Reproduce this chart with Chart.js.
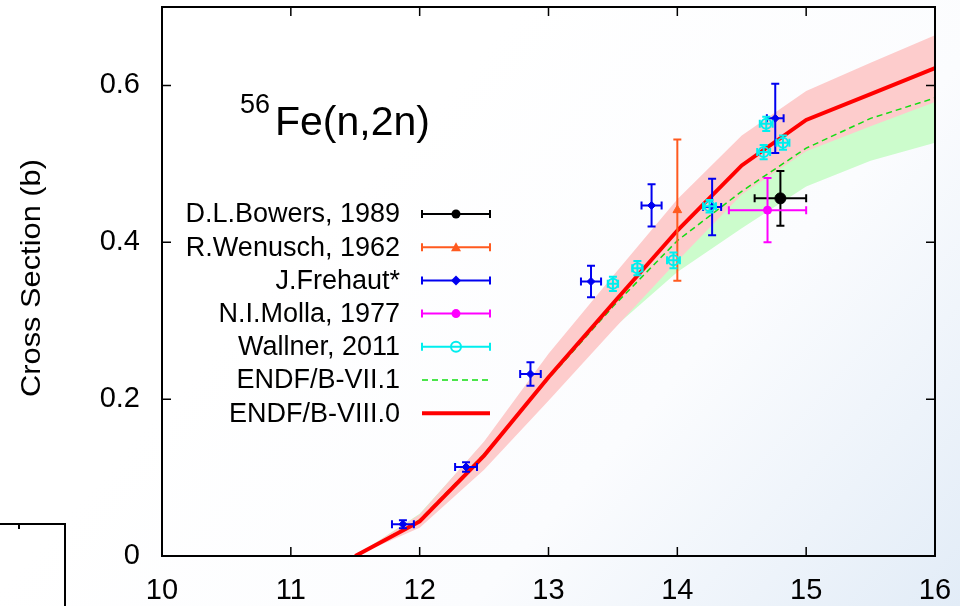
<!DOCTYPE html>
<html>
<head>
<meta charset="utf-8">
<script src="https://cdn.jsdelivr.net/npm/chart.js@4.4.1/dist/chart.umd.min.js"></script>
<style>
  html, body { margin: 0; padding: 0; background: #fff; }
  canvas { display: block; }
</style>
</head>
<body>
<canvas id="xs" width="960" height="606"></canvas>
<script>
// evaluated curves, neutron energy in MeV, cross section in barns
const energies = [11.5, 12, 12.5, 13, 13.5, 14, 14.5, 15, 15.5, 16];
const endf80   = [0, 0.044, 0.128, 0.228, 0.322, 0.415, 0.498, 0.556, 0.589, 0.622];
const endf80Lo = [0, 0.036, 0.110, 0.198, 0.288, 0.376, 0.461, 0.516, 0.548, 0.579];
const endf80Hi = [0, 0.053, 0.146, 0.258, 0.357, 0.455, 0.536, 0.593, 0.629, 0.664];
const endf71   = [0, 0.046, 0.130, 0.226, 0.318, 0.402, 0.465, 0.520, 0.558, 0.584];
const endf71Lo = [0, 0.038, 0.115, 0.200, 0.290, 0.362, 0.418, 0.471, 0.504, 0.527];
const endf71Hi = [0, 0.054, 0.145, 0.252, 0.346, 0.442, 0.512, 0.569, 0.612, 0.641];

// measurements: energy, energy error, cross section, cross section error
const bowersE = [14.80], bowersDE = [0.20], bowersXS = [0.456], bowersDXS = [0.035];
const wenuschE = [14.00], wenuschDE = [0], wenuschXS = [0.441], wenuschDXS = [0.090];
const frehautE   = [11.87, 12.36, 12.86, 13.33, 13.80, 14.27, 14.76];
const frehautDE  = [0.085, 0.085, 0.080, 0.078, 0.078, 0.070, 0.065];
const frehautXS  = [0.0405, 0.1135, 0.232, 0.350, 0.447, 0.445, 0.558];
const frehautDXS = [0.005, 0.006, 0.015, 0.020, 0.027, 0.036, 0.044];
const mollaE = [14.70], mollaDE = [0.30], mollaXS = [0.441], mollaDXS = [0.041];
const wallnerE   = [13.50, 13.69, 13.97, 14.25, 14.67, 14.69, 14.82];
const wallnerDE  = [0.04, 0.04, 0.05, 0.05, 0.05, 0.05, 0.05];
const wallnerXS  = [0.347, 0.367, 0.377, 0.446, 0.515, 0.551, 0.527];
const wallnerDXS = [0.009, 0.009, 0.010, 0.008, 0.009, 0.009, 0.009];

const xTicks = [10, 11, 12, 13, 14, 15, 16];
const yTicks = [0, 0.2, 0.4, 0.6];

const pts = (xs, ys) => xs.map((x, i) => ({ x: x, y: ys[i] }));

const ORANGE = '#ff5a1f', BLUE = '#0000f0', MAGENTA = '#ff00ff', CYAN = '#00eeee';

function curve(ys, extra) {
  return Object.assign({
    data: pts(energies, ys), showLine: true, pointRadius: 0,
    borderWidth: 0, borderColor: 'rgba(0,0,0,0)', tension: 0, fill: false
  }, extra);
}

function measured(label, xs, dxs, ys, dys, color, style, extra) {
  return Object.assign({
    label: label, data: pts(xs, ys), errX: dxs, errY: dys,
    showLine: false, pointStyle: style, pointRadius: 4,
    backgroundColor: color, borderColor: color, borderWidth: 1, order: 1
  }, extra);
}

const datasets = [
  curve(endf71Lo, { order: 10 }),                                              // 0
  curve(endf71Hi, { order: 10, fill: { target: 0 }, backgroundColor: '#ccfccc' }), // 1
  curve(endf80Lo, { order: 9 }),                                               // 2
  curve(endf80Hi, { order: 9, fill: { target: 2 }, backgroundColor: '#fdcccc' }),  // 3
  curve(endf71, { label: 'ENDF/B-VII.1', order: 8, borderWidth: 1.5, borderColor: '#11dd11', borderDash: [6, 4] }),
  curve(endf80, { label: 'ENDF/B-VIII.0', order: 7, borderWidth: 4, borderColor: '#ff0000' }),
  measured('Wallner, 2011', wallnerE, wallnerDE, wallnerXS, wallnerDXS, CYAN, 'circle',
           { backgroundColor: 'rgba(0,0,0,0)', borderWidth: 2, pointRadius: 5 }),
  measured('N.I.Molla, 1977', mollaE, mollaDE, mollaXS, mollaDXS, MAGENTA, 'circle'),
  measured('J.Frehaut*', frehautE, frehautDE, frehautXS, frehautDXS, BLUE, 'rectRot'),
  measured('R.Wenusch, 1962', wenuschE, wenuschDE, wenuschXS, wenuschDXS, ORANGE, 'triangle', { pointRadius: 5 }),
  measured('D.L.Bowers, 1989', bowersE, bowersDE, bowersXS, bowersDXS, '#000', 'circle', { pointRadius: 5.5 })
];

const legendRows = [
  { text: 'D.L.Bowers, 1989', color: '#000', kind: 'err', marker: 'dot' },
  { text: 'R.Wenusch, 1962', color: ORANGE, kind: 'err', marker: 'tri' },
  { text: 'J.Frehaut*', color: BLUE, kind: 'err', marker: 'dia' },
  { text: 'N.I.Molla, 1977', color: MAGENTA, kind: 'err', marker: 'dot' },
  { text: 'Wallner, 2011', color: CYAN, kind: 'err', marker: 'ring' },
  { text: 'ENDF/B-VII.1', color: '#11dd11', kind: 'dash' },
  { text: 'ENDF/B-VIII.0', color: '#ff0000', kind: 'thick' }
];

function capLine(ctx, x1, y1, x2, y2, horiz, cap) {
  ctx.beginPath();
  ctx.moveTo(x1, y1); ctx.lineTo(x2, y2);
  if (horiz) {
    ctx.moveTo(x1, y1 - cap); ctx.lineTo(x1, y1 + cap);
    ctx.moveTo(x2, y2 - cap); ctx.lineTo(x2, y2 + cap);
  } else {
    ctx.moveTo(x1 - cap, y1); ctx.lineTo(x1 + cap, y1);
    ctx.moveTo(x2 - cap, y2); ctx.lineTo(x2 + cap, y2);
  }
  ctx.stroke();
}

function marker(ctx, kind, x, y, color) {
  ctx.fillStyle = color; ctx.strokeStyle = color;
  ctx.beginPath();
  if (kind === 'dot') { ctx.arc(x, y, 4.5, 0, Math.PI * 2); ctx.fill(); }
  else if (kind === 'tri') { ctx.moveTo(x, y - 5); ctx.lineTo(x + 5, y + 4); ctx.lineTo(x - 5, y + 4); ctx.closePath(); ctx.fill(); }
  else if (kind === 'dia') { ctx.moveTo(x, y - 5); ctx.lineTo(x + 5, y); ctx.lineTo(x, y + 5); ctx.lineTo(x - 5, y); ctx.closePath(); ctx.fill(); }
  else if (kind === 'ring') { ctx.lineWidth = 2; ctx.arc(x, y, 5, 0, Math.PI * 2); ctx.stroke(); }
}

const decor = {
  id: 'decor',
  beforeDraw(chart) {
    const ctx = chart.ctx;
    const g = ctx.createLinearGradient(420, 120, 960, 606);
    g.addColorStop(0, '#ffffff');
    g.addColorStop(0.5, '#fbfcfe');
    g.addColorStop(1, '#e2ecf7');
    ctx.save();
    ctx.fillStyle = g;
    ctx.fillRect(0, 0, chart.width, chart.height);
    ctx.restore();
  },
  beforeDatasetDraw(chart, args) {
    const ds = chart.data.datasets[args.index];
    if (!ds.errY) return;
    const ctx = chart.ctx, xs = chart.scales.x, ys = chart.scales.y;
    ctx.save();
    ctx.strokeStyle = ds.borderColor;
    ctx.lineWidth = 2;
    ds.data.forEach((p, i) => {
      const px = xs.getPixelForValue(p.x), py = ys.getPixelForValue(p.y);
      const dx = ds.errX[i], dy = ds.errY[i];
      capLine(ctx, px, ys.getPixelForValue(p.y - dy), px, ys.getPixelForValue(p.y + dy), false, 4);
      if (dx > 0) capLine(ctx, xs.getPixelForValue(p.x - dx), py, xs.getPixelForValue(p.x + dx), py, true, 4);
    });
    ctx.restore();
  },
  afterDraw(chart) {
    const ctx = chart.ctx, a = chart.chartArea, xs = chart.scales.x, ys = chart.scales.y;
    ctx.save();
    ctx.strokeStyle = '#000';
    // inward tick marks on all four sides
    ctx.lineWidth = 1.5;
    ctx.beginPath();
    xs.ticks.forEach(t => {
      const px = xs.getPixelForValue(t.value);
      const len = Number.isInteger(t.value) ? 9 : 5;
      ctx.moveTo(px, a.bottom); ctx.lineTo(px, a.bottom - len);
      ctx.moveTo(px, a.top); ctx.lineTo(px, a.top + len);
    });
    ys.ticks.forEach(t => {
      const py = ys.getPixelForValue(t.value);
      const len = Math.round(t.value * 10) % 2 === 0 ? 9 : 5;
      ctx.moveTo(a.left, py); ctx.lineTo(a.left + len, py);
      ctx.moveTo(a.right, py); ctx.lineTo(a.right - len, py);
    });
    ctx.stroke();
    ctx.lineWidth = 2;
    ctx.strokeRect(a.left, a.top, a.right - a.left, a.bottom - a.top);

    // corner of the neighbouring panel
    ctx.beginPath();
    ctx.moveTo(0, 524); ctx.lineTo(65, 524); ctx.lineTo(65, 606);
    ctx.moveTo(19, 524); ctx.lineTo(19, 529);
    ctx.stroke();

    // reaction label
    ctx.fillStyle = '#000';
    ctx.textBaseline = 'alphabetic';
    ctx.textAlign = 'left';
    ctx.font = '27px "Liberation Sans", Arial, sans-serif';
    ctx.fillText('56', 240, 113);
    ctx.font = '41px "Liberation Sans", Arial, sans-serif';
    ctx.fillText('Fe(n,2n)', 275, 135);

    // y axis title
    ctx.save();
    ctx.translate(40, 278);
    ctx.rotate(-Math.PI / 2);
    ctx.scale(1.1, 1);
    ctx.textAlign = 'center';
    ctx.font = '28px "Liberation Sans", Arial, sans-serif';
    ctx.fillText('Cross Section (b)', 0, 0);
    ctx.restore();

    // legend
    ctx.font = '27px "Liberation Sans", Arial, sans-serif';
    ctx.textAlign = 'right';
    ctx.textBaseline = 'middle';
    legendRows.forEach((r, i) => {
      const y = 214 + i * 33.2;
      ctx.fillStyle = '#000';
      ctx.fillText(r.text, 400, y + 1);
      ctx.strokeStyle = r.color;
      if (r.kind === 'err') {
        ctx.lineWidth = 2;
        capLine(ctx, 422, y, 490, y, true, 4);
        marker(ctx, r.marker, 456, y, r.color);
      } else if (r.kind === 'dash') {
        ctx.lineWidth = 1.5;
        ctx.setLineDash([6, 4]);
        ctx.beginPath(); ctx.moveTo(422, y); ctx.lineTo(490, y); ctx.stroke();
        ctx.setLineDash([]);
      } else {
        ctx.lineWidth = 4;
        ctx.beginPath(); ctx.moveTo(422, y); ctx.lineTo(490, y); ctx.stroke();
      }
    });
    ctx.restore();
  }
};

new Chart(document.getElementById('xs'), {
  type: 'scatter',
  data: { datasets: datasets },
  options: {
    responsive: false,
    animation: false,
    layout: { padding: { top: 6, right: 25, left: 0, bottom: 0 } },
    plugins: { legend: { display: false }, tooltip: { enabled: false } },
    scales: {
      x: {
        type: 'linear', min: 10, max: 16,
        grid: { display: false, drawTicks: false },
        border: { display: false },
        afterFit(scale) {
          scale.height = 50;
          scale.paddingLeft = 0; scale.paddingRight = 0;
        },
        ticks: {
          stepSize: 0.5, padding: 18, color: '#000', maxRotation: 0, autoSkip: false,
          font: { family: '"Liberation Sans", Arial, sans-serif', size: 29 },
          callback: v => (xTicks.includes(v) ? String(v) : null)
        }
      },
      y: {
        type: 'linear', min: 0, max: 0.7,
        grid: { display: false, drawTicks: false },
        border: { display: false },
        afterFit(scale) {
          scale.width = 162;
          scale.paddingTop = 0; scale.paddingBottom = 0;
        },
        ticks: {
          stepSize: 0.1, padding: 22, color: '#000', autoSkip: false,
          font: { family: '"Liberation Sans", Arial, sans-serif', size: 29 },
          callback: v => {
            const t = yTicks.find(k => Math.abs(k - v) < 1e-6);
            return t === undefined ? null : String(t);
          }
        }
      }
    }
  },
  plugins: [decor]
});
</script>
</body>
</html>
